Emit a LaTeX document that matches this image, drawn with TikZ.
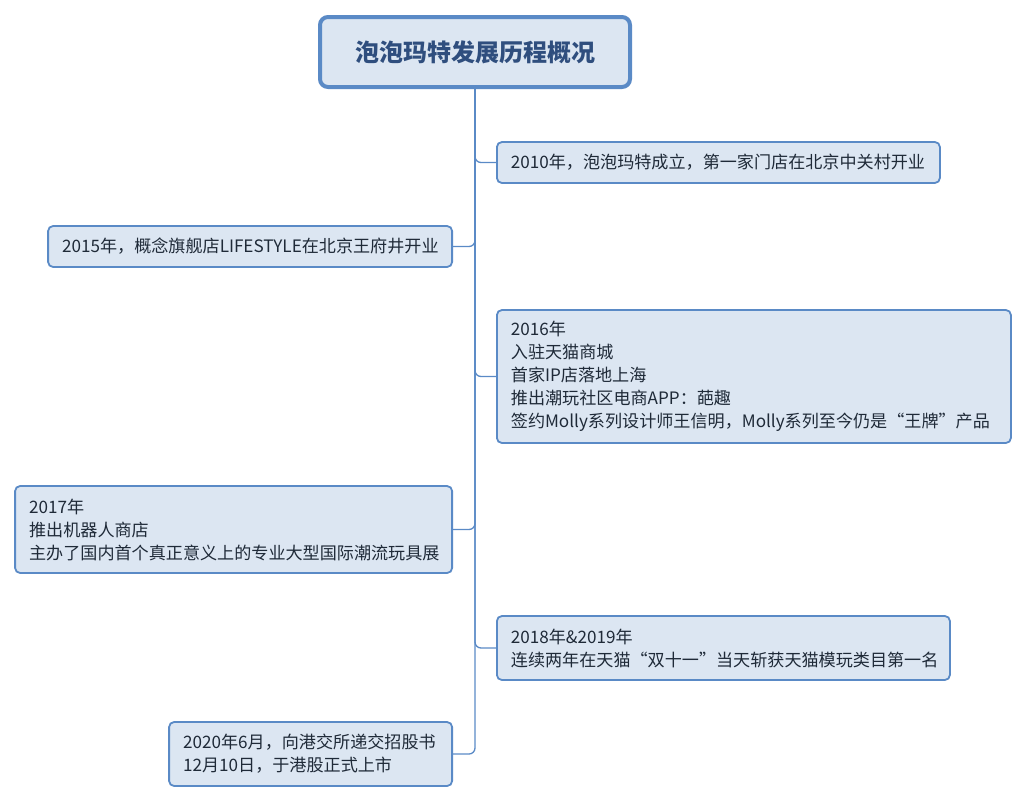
\documentclass[tikz,border=0pt]{standalone}
\usepackage{fontspec}
\setmainfont{Noto Sans CJK SC}
\usepackage{tikz}
\usetikzlibrary{positioning}
\definecolor{boxfill}{HTML}{DCE6F2}
\definecolor{boxline}{HTML}{5A8AC6}
\definecolor{inktext}{HTML}{1F2A38}
\definecolor{titletext}{HTML}{2F4E7E}
\tikzset{
x=1pt, y=-1pt, % one unit is one pixel of the layout
event/.style={draw=boxline, fill=boxfill, line width=1.8pt, rounded corners=5pt, align=left, inner xsep=14pt, inner ysep=0pt, text=inktext, font=\fontsize{17.1}{23}\selectfont}, % the year boxes
headline/.style={draw=boxline, fill=boxfill, line width=4pt, rounded corners=8pt, minimum width=310, minimum height=70, text=titletext, font=\fontsize{24}{28}\selectfont\bfseries}, % the title box
branch/.style={draw=boxline, line width=1.3pt, rounded corners=6pt}, % the connectors
}
\begin{document}
\begin{tikzpicture}
        \useasboundingbox (0,0) rectangle (1027,804);
        \node[headline] (title) at (475,52) {泡泡玛特发展历程概况};

        \node[event, anchor=west, text width=415, minimum height=41] (y2010) at (496,162.5) {2010年，泡泡玛特成立，第一家门店在北京中关村开业};
        \node[event, anchor=east, text width=376, minimum height=41] (y2015) at (453,246.5) {2015年，概念旗舰店LIFESTYLE在北京王府井开业};
        \node[event, anchor=west, text width=486, minimum height=133] (y2016) at (496,376.5) {2016年\\入驻天猫商城\\首家IP店落地上海\\推出潮玩社区电商APP：葩趣\\签约Molly系列设计师王信明，Molly系列至今仍是“王牌”产品};
        \node[event, anchor=east, text width=409, minimum height=87] (y2017) at (453,529.5) {2017年\\推出机器人商店\\主办了国内首个真正意义上的专业大型国际潮流玩具展};
        \node[event, anchor=west, text width=425, minimum height=64] (y2018) at (496,648) {2018年\&2019年\\连续两年在天猫“双十一”当天斩获天猫模玩类目第一名};
        \node[event, anchor=east, text width=255, minimum height=64] (y2020) at (453,754) {2020年6月，向港交所递交招股书\\12月10日，于港股正式上市};

        \draw[branch] (title.south) |- (y2010.west);
        \draw[branch] (title.south) |- (y2015.east);
        \draw[branch] (title.south) |- (y2016.west);
        \draw[branch] (title.south) |- (y2017.east);
        \draw[branch] (title.south) |- (y2018.west);
        \draw[branch] (title.south) |- (y2020.east);
\end{tikzpicture}
\end{document}
